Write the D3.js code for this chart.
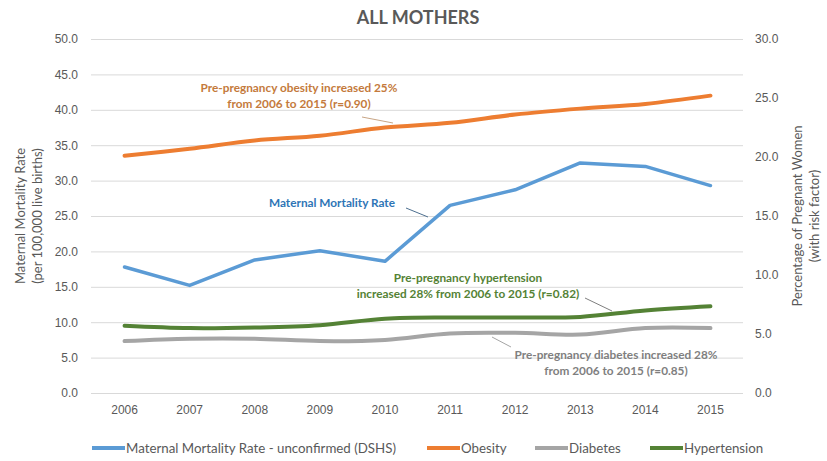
<!DOCTYPE html>
<html>
<head>
<meta charset="utf-8">
<script src="https://cdn.jsdelivr.net/npm/d3@7"></script>
<style>
    body { margin: 0; background: #fff; }
    svg { width: 827px; height: 461px; font-family: Lato, "Open Sans", sans-serif; }
</style>
</head>
<body>
<svg></svg>
<script>
// Data
const years = ["2006", "2007", "2008", "2009", "2010", "2011", "2012", "2013", "2014", "2015"];
// left axis: per 100,000 live births
const mortality = [17.8, 15.2, 18.8, 20.1, 18.6, 26.5, 28.7, 32.5, 32.0, 29.3];
// right axis: percent of pregnant women
const obesity = [20.1, 20.7, 21.4, 21.8, 22.5, 22.9, 23.6, 24.1, 24.5, 25.2];
const diabetes = [4.4, 4.6, 4.6, 4.4, 4.5, 5.05, 5.1, 4.95, 5.5, 5.5];
const hypertension = [5.7, 5.5, 5.55, 5.75, 6.3, 6.4, 6.4, 6.45, 7.0, 7.35];

const leftTicks = [0, 5, 10, 15, 20, 25, 30, 35, 40, 45, 50];
const rightTicks = [0, 5, 10, 15, 20, 25, 30];

const colors = { mortality: "#5b9bd5", obesity: "#ed7d31", diabetes: "#a5a5a5", hypertension: "#548235" };
const textColor = "#595959";

function drawGraph() {
    const svg = d3.select("svg");
    svg.selectAll('*').remove();

    const area = { left: 91, right: 743, top: 39, bottom: 393 };

    const scX = d3.scaleBand().domain(years).range([area.left + 1, area.right]);
    const scL = d3.scaleLinear().domain([0, 50]).range([area.bottom, area.top]);
    const scR = d3.scaleLinear().domain([0, 30]).range([area.bottom, area.top]);
    const cx = d => scX(d) + scX.bandwidth() / 2;

    // title
    svg.append("text")
        .attr("x", 418).attr("y", 24)
        .attr("text-anchor", "middle")
        .style("font-size", "18px").style("font-weight", "bold")
        .style("fill", textColor)
        .text("ALL MOTHERS");

    // left axis with grid
    const gL = svg.append("g")
        .attr("transform", `translate(${area.left}, 0)`)
        .call(d3.axisLeft(scL).tickValues(leftTicks).tickFormat(d3.format(".1f"))
            .tickSizeInner(-(area.right - area.left)).tickSizeOuter(0).tickPadding(13));
    gL.select(".domain").remove();
    gL.selectAll("line").attr("stroke", "#d9d9d9");
    gL.selectAll("text").style("font-size", "12px").style("fill", textColor);

    // right axis
    const gR = svg.append("g")
        .attr("transform", `translate(${area.right}, 0)`)
        .call(d3.axisRight(scR).tickValues(rightTicks).tickFormat(d3.format(".1f"))
            .tickSize(0).tickPadding(12));
    gR.select(".domain").remove();
    gR.selectAll("text").style("font-size", "12px").style("fill", textColor);

    // x axis labels
    const gX = svg.append("g")
        .attr("transform", `translate(0, ${area.bottom})`)
        .call(d3.axisBottom(scX).tickSize(0).tickPadding(12));
    gX.select(".domain").remove();
    gX.selectAll("text").style("font-size", "12px").style("fill", textColor);

    // axis titles
    const midY = (area.top + area.bottom) / 2;
    const leftTitle = svg.append("text")
        .attr("transform", `translate(25, ${midY}) rotate(-90)`)
        .attr("text-anchor", "middle")
        .style("font-size", "13px").style("fill", textColor);
    leftTitle.append("tspan").attr("x", 0).attr("dy", 0).text("Maternal Mortality Rate");
    leftTitle.append("tspan").attr("x", 0).attr("dy", 17).text("(per 100,000 live births)");

    const rightTitle = svg.append("text")
        .attr("transform", `translate(802, ${midY}) rotate(-90)`)
        .attr("text-anchor", "middle")
        .style("font-size", "13px").style("fill", textColor);
    rightTitle.append("tspan").attr("x", 0).attr("dy", 0).text("Percentage of Pregnant Women");
    rightTitle.append("tspan").attr("x", 0).attr("dy", 17).text("(with risk factor)");

    // series
    createLine(svg, mortality, cx, scL, colors.mortality, 3.5, d3.curveLinear);
    createLine(svg, obesity, cx, scR, colors.obesity, 4, d3.curveCatmullRom.alpha(0.5));
    createLine(svg, diabetes, cx, scR, colors.diabetes, 4, d3.curveCatmullRom.alpha(0.5));
    createLine(svg, hypertension, cx, scR, colors.hypertension, 4, d3.curveCatmullRom.alpha(0.5));

    // annotations
    const notes = [
        { lines: ["Pre-pregnancy obesity increased 25%", "from 2006 to 2015 (r=0.90)"], x: 299, y: 92,
          color: "#c47a3c", link: [362, 117, 393, 123], linkColor: "#c8a585" },
        { lines: ["Maternal Mortality Rate"], x: 332, y: 207,
          color: "#2e75b6", link: [406, 208, 428, 217], linkColor: "#4d6f8f" },
        { lines: ["Pre-pregnancy hypertension", "increased 28% from 2006 to 2015 (r=0.82)"], x: 468, y: 282,
          color: "#548235", link: [585, 298, 612, 311], linkColor: "#7f7f7f" },
        { lines: ["Pre-pregnancy diabetes increased 28%", "from 2006 to 2015 (r=0.85)"], x: 616, y: 359,
          color: "#7f7f7f", link: [492, 337, 511, 347], linkColor: "#a5a5a5" }
    ];
    for (let n of notes) {
        const t = svg.append("text")
            .attr("text-anchor", "middle")
            .style("font-size", "11.8px").style("font-weight", "bold")
            .style("fill", n.color);
        n.lines.forEach((s, i) => {
            t.append("tspan").attr("x", n.x).attr("y", n.y + i * 15.5).text(s);
        });
        svg.append("line")
            .attr("x1", n.link[0]).attr("y1", n.link[1])
            .attr("x2", n.link[2]).attr("y2", n.link[3])
            .attr("stroke", n.linkColor).attr("stroke-width", 1);
    }

    // legend
    const legend = [
        { name: "Maternal Mortality Rate - unconfirmed (DSHS)", color: colors.mortality, x: 92 },
        { name: "Obesity", color: colors.obesity, x: 427 },
        { name: "Diabetes", color: colors.diabetes, x: 535 },
        { name: "Hypertension", color: colors.hypertension, x: 650 }
    ];
    const lg = svg.append("g").attr("transform", "translate(0, 448)");
    lg.selectAll("line").data(legend).enter().append("line")
        .attr("x1", d => d.x).attr("x2", d => d.x + 33)
        .attr("y1", 0).attr("y2", 0)
        .attr("stroke", d => d.color).attr("stroke-width", 4);
    lg.selectAll("text").data(legend).enter().append("text")
        .attr("x", d => d.x + 34).attr("y", 4.5)
        .style("font-size", "13.3px").style("fill", textColor)
        .text(d => d.name);
}

// draws one series as a path
function createLine(svg, values, cx, scY, color, width, curve) {
    const line = d3.line()
        .x((d, i) => cx(years[i]))
        .y(d => scY(d))
        .curve(curve);

    svg.append("path")
        .datum(values)
        .attr("fill", "none")
        .attr("stroke", color)
        .attr("stroke-width", width)
        .attr("stroke-linecap", "round")
        .attr("stroke-linejoin", "round")
        .attr("d", line);
}

drawGraph();
</script>
</body>
</html>
